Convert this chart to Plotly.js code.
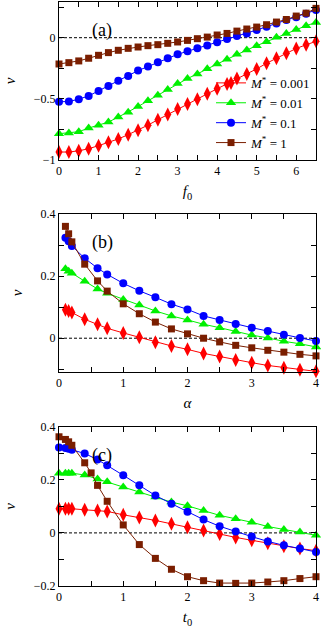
<!DOCTYPE html>
<html><head><meta charset="utf-8">
<script src="https://cdn.plot.ly/plotly-3.0.1.min.js"></script>
<style>html,body{margin:0;padding:0;background:#fff}#chart{width:321px;height:630px}</style>
</head><body><div id="chart"></div>
<script>
// ---- data ----
const seriesNames = ['<i>M</i><sup>*</sup> = 0.001','<i>M</i><sup>*</sup> = 0.01','<i>M</i><sup>*</sup> = 0.1','<i>M</i><sup>*</sup> = 1'];

const fA = [0,0.25,0.5,0.75,1,1.25,1.5,1.75,2,2.25,2.5,2.75,3,3.25,3.5,3.75,4,4.25,4.5,4.75,5,5.25,5.5,5.75,6,6.25,6.5];
const redA   = [-0.935,-0.935,-0.925,-0.908,-0.883,-0.856,-0.828,-0.793,-0.757,-0.715,-0.671,-0.628,-0.583,-0.543,-0.503,-0.459,-0.418,-0.378,-0.334,-0.296,-0.255,-0.209,-0.168,-0.128,-0.088,-0.058,-0.030];
const greenA = [-0.785,-0.780,-0.769,-0.739,-0.717,-0.690,-0.649,-0.609,-0.563,-0.516,-0.470,-0.424,-0.375,-0.334,-0.296,-0.253,-0.215,-0.177,-0.136,-0.101,-0.065,-0.033,0.003,0.035,0.068,0.098,0.125];
const blueA  = [-0.524,-0.522,-0.503,-0.476,-0.435,-0.394,-0.353,-0.313,-0.269,-0.236,-0.201,-0.168,-0.136,-0.111,-0.087,-0.063,-0.038,-0.011,0.014,0.035,0.063,0.090,0.117,0.144,0.168,0.196,0.226];
const brownA = [-0.215,-0.204,-0.190,-0.168,-0.144,-0.122,-0.103,-0.087,-0.076,-0.065,-0.057,-0.046,-0.035,-0.022,-0.008,0.005,0.022,0.035,0.054,0.071,0.087,0.106,0.128,0.149,0.177,0.201,0.240];

const alphaB = [0.1,0.15,0.2,0.4,0.6,0.75,1,1.25,1.5,1.75,2,2.25,2.5,2.75,3,3.25,3.5,3.75,4];
const redB   = [0.092,0.088,0.083,0.061,0.045,0.032,0.017,0.003,-0.013,-0.025,-0.036,-0.049,-0.059,-0.070,-0.079,-0.088,-0.095,-0.102,-0.107];
const greenB = [0.224,0.216,0.210,0.184,0.159,0.145,0.125,0.107,0.088,0.072,0.059,0.045,0.034,0.022,0.010,0.001,-0.010,-0.018,-0.028];
const blueB  = [0.324,0.313,0.298,0.258,0.226,0.206,0.177,0.153,0.132,0.110,0.093,0.072,0.059,0.046,0.034,0.023,0.011,0.001,-0.009];
const brownB = [0.361,0.337,0.311,0.239,0.185,0.152,0.111,0.079,0.052,0.030,0.014,0.000,-0.012,-0.023,-0.031,-0.039,-0.045,-0.052,-0.057];

const tC = [0,0.1,0.15,0.2,0.4,0.6,0.75,1,1.25,1.5,1.75,2,2.25,2.5,2.75,3,3.25,3.5,3.75,4];
const tCbrown = [0,0.1,0.15,0.2,0.4,0.5,0.6,0.75,1,1.25,1.5,1.75,2,2.25,2.5,2.75,3,3.25,3.5,3.75,4];
const redC   = [0.091,0.091,0.091,0.091,0.087,0.084,0.081,0.068,0.058,0.047,0.034,0.021,0.009,-0.004,-0.017,-0.028,-0.039,-0.050,-0.059,-0.067];
const greenC = [0.225,0.225,0.225,0.225,0.218,0.203,0.193,0.173,0.154,0.135,0.116,0.102,0.084,0.066,0.053,0.040,0.024,0.013,0.003,-0.009];
const blueC  = [0.322,0.320,0.317,0.313,0.299,0.276,0.255,0.217,0.179,0.141,0.110,0.080,0.050,0.025,0.005,-0.014,-0.032,-0.047,-0.059,-0.072];
const brownC = [0.362,0.352,0.343,0.330,0.264,0.226,0.179,0.119,0.030,-0.044,-0.096,-0.137,-0.165,-0.180,-0.189,-0.190,-0.189,-0.185,-0.180,-0.172,-0.165];

// ---- styles ----
const colors = ['#ff0000','#00f000','#0000ff','#7a1e00'];
const symbols = ['diamond-tall','triangle-up','circle','square'];
const msizes = [10,9,8,7];
const FONT = '"Liberation Serif", "DejaVu Serif", serif';

function tr(x, y, i, ax, show){
  return {x:x, y:y, xaxis:'x'+ax, yaxis:'y'+ax, type:'scatter', mode:'lines+markers',
    name:seriesNames[i], showlegend:show, cliponaxis:false,
    line:{color:colors[i], width:1},
    marker:{symbol:symbols[i], size:msizes[i], color:colors[i], line:{width:0}}};
}
const data = [
  tr(fA,redA,0,'',true), tr(fA,greenA,1,'',true), tr(fA,blueA,2,'',true), tr(fA,brownA,3,'',true),
  tr(alphaB,redB,0,'2',false), tr(alphaB,greenB,1,'2',false), tr(alphaB,blueB,2,'2',false), tr(alphaB,brownB,3,'2',false),
  tr(tC,redC,0,'3',false), tr(tC,greenC,1,'3',false), tr(tC,blueC,2,'3',false), tr(tCbrown,brownC,3,'3',false)
];

function xax(range, title, anchor){
  return {range:range, anchor:anchor, domain:[0,1], showline:true, mirror:'allticks', linecolor:'#000', linewidth:1,
    ticks:'inside', ticklen:5, tickcolor:'#000', dtick:1, tick0:0, showgrid:false, zeroline:false,
    minor:{dtick:0.5, ticks:'inside', ticklen:5, tickcolor:'#000'},
    tickfont:{family:FONT, size:12, color:'#000'},
    title:{text:title, font:{family:FONT, size:15, color:'#000'}, standoff:8}};
}
function yax(range, dom, dtick, mdtick, anchor){
  return {range:range, anchor:anchor, domain:dom, showline:true, mirror:'allticks', linecolor:'#000', linewidth:1,
    ticks:'inside', ticklen:5, tickcolor:'#000', dtick:dtick, tick0:0, showgrid:false, zeroline:false,
    minor:{dtick:mdtick, ticks:'inside', ticklen:5, tickcolor:'#000'},
    tickfont:{family:FONT, size:12, color:'#000'},
    title:{text:'<i>v</i>', font:{family:FONT, size:15, color:'#000'}, standoff:14}};
}
const layout = {
  width:321, height:630, margin:{l:59, r:5, t:2, b:44},
  paper_bgcolor:'#fff', plot_bgcolor:'#fff', showlegend:true,
  font:{family:FONT, color:'#000'},
  xaxis: xax([0,6.5], '<i>f</i><sub>0</sub>', 'y'),
  yaxis: yax([-1,0.292], [0.7295,1], 0.5, 0.25, 'x'),
  xaxis2: xax([0,4], '<i>α</i>', 'y2'),
  yaxis2: yax([-0.108,0.4], [0.367,0.6365], 0.2, 0.1, 'x2'),
  xaxis3: xax([0,4], '<i>t</i><sub>0</sub>', 'y3'),
  yaxis3: yax([-0.2,0.4], [0,0.2728], 0.2, 0.1, 'x3'),
  legend:{x:1, xanchor:'right', y:0.733, yanchor:'bottom', bgcolor:'rgba(0,0,0,0)',
    font:{family:FONT, size:13, color:'#000'}, tracegroupgap:0, itemwidth:30},
  shapes:['','2','3'].map(a=>({type:'line', xref:'x'+a+' domain', yref:'y'+a, x0:0, x1:1, y0:0, y1:0,
    line:{color:'#000', width:1, dash:'3px,2px'}, layer:'below'})),
  annotations:[['(a)',''],['(b)','2'],['(c)','3']].map(p=>({text:p[0], xref:'x'+p[1]+' domain', yref:'y'+p[1]+' domain',
    x:0.12, y:0.90, showarrow:false, font:{family:FONT, size:18, color:'#000'}}))
};
Plotly.newPlot('chart', data, layout, {displayModeBar:false, staticPlot:true});
</script></body></html>
